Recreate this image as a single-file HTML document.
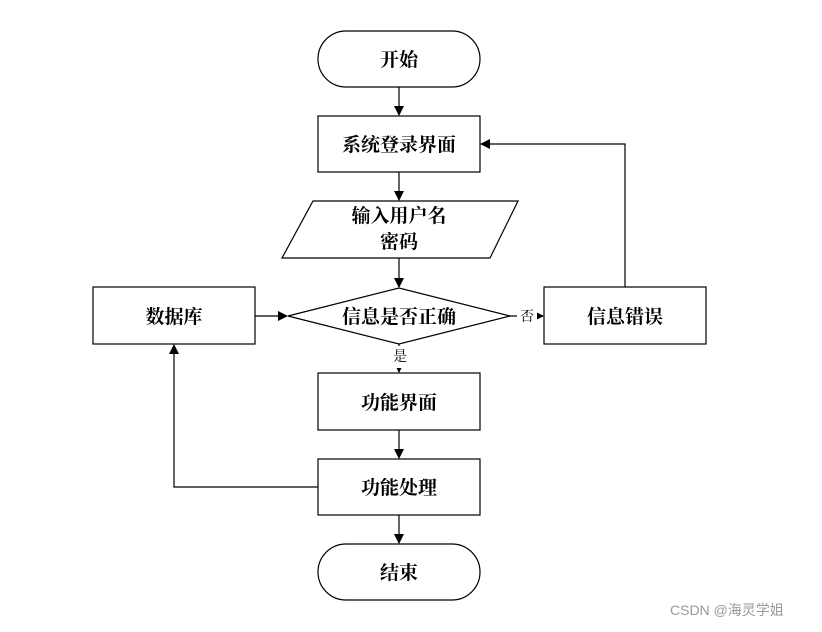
<!DOCTYPE html>
<html><head><meta charset="utf-8"><style>
body{margin:0;background:#fff;width:822px;height:627px;overflow:hidden}
svg text{font-family:"Liberation Serif","Noto Serif CJK SC",serif;font-weight:bold;font-size:19px;fill:#000}
</style></head><body>
<svg width="822" height="627" viewBox="0 0 822 627">
<defs><marker id="a" markerWidth="10" markerHeight="10" refX="9" refY="5" orient="auto" markerUnits="userSpaceOnUse"><path d="M0,0 L10,5 L0,10 z" fill="#000"/></marker></defs>
<g fill="#fff" stroke="#000" stroke-width="1.2">
<rect x="318" y="31" width="162" height="56" rx="28"/>
<rect x="318" y="116" width="162" height="56"/>
<polygon points="313,201 518,201 490,258 282,258"/>
<polygon points="288,316 399,288 510,316 399,344"/>
<rect x="93" y="287" width="162" height="57"/>
<rect x="544" y="287" width="162" height="57"/>
<rect x="318" y="373" width="162" height="57"/>
<rect x="318" y="459" width="162" height="56"/>
<rect x="318" y="544" width="162" height="56" rx="28"/>
</g>
<g stroke="#000" stroke-width="1.2" fill="none" marker-end="url(#a)">
<line x1="399" y1="87" x2="399" y2="115"/>
<line x1="399" y1="172" x2="399" y2="200"/>
<line x1="399" y1="258" x2="399" y2="287"/>
<line x1="255" y1="316" x2="287" y2="316"/>
<line x1="510" y1="316" x2="543" y2="316"/>
<line x1="399" y1="344" x2="399" y2="372"/>
<line x1="399" y1="430" x2="399" y2="458"/>
<line x1="399" y1="515" x2="399" y2="543"/>
<polyline points="625,287 625,144 481,144"/>
<polyline points="318,487 174,487 174,345"/>
</g>
<rect x="517" y="306" width="20" height="20" fill="#fff"/>
<rect x="390" y="346" width="20" height="22" fill="#fff"/>
<g text-anchor="middle">
<text x="399" y="66">开始</text>
<text x="399" y="151">系统登录界面</text>
<text x="399" y="222">输入用户名</text>
<text x="399" y="248">密码</text>
<text x="399" y="323">信息是否正确</text>
<text x="174" y="323">数据库</text>
<text x="625" y="323">信息错误</text>
<text x="399" y="409">功能界面</text>
<text x="399" y="494">功能处理</text>
<text x="399" y="579">结束</text>
<text x="527" y="321" style="font-size:14px;font-weight:normal">否</text>
<text x="400" y="361" style="font-size:14px;font-weight:normal">是</text>
</g>
<text x="670" y="615" style="font-family:'Liberation Sans','Noto Sans CJK SC',sans-serif;font-size:14px;font-weight:normal;fill:#999">CSDN @海灵学姐</text>
</svg>
</body></html>
